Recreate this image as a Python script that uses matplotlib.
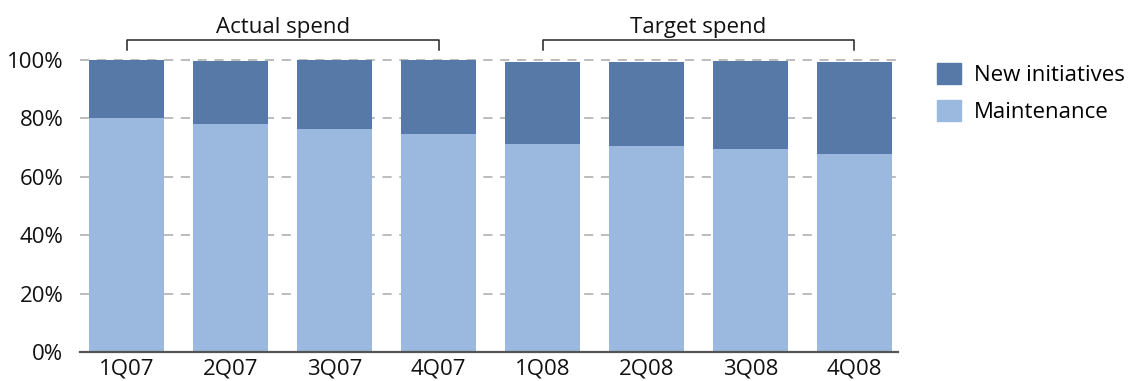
import matplotlib
matplotlib.use("Agg")
import matplotlib.pyplot as plt
from matplotlib.patches import Patch
import numpy as np

plt.rcParams['font.family'] = ['Open Sans', 'DejaVu Sans']

# data
quarters = ['1Q07', '2Q07', '3Q07', '4Q07', '1Q08', '2Q08', '3Q08', '4Q08']
maintenance = [80, 78, 76.5, 74.7, 71.2, 70.7, 69.5, 67.8]
totals = [100, 99.8, 100, 100, 99.4, 99.4, 99.7, 99.4]
new_init = [t - m for t, m in zip(totals, maintenance)]
groups = [('Actual spend', 0, 3), ('Target spend', 4, 7)]
yticks = [0, 20, 40, 60, 80, 100]

dark = '#5679A8'
light = '#9BB8DE'
fs = 16

fig = plt.figure(figsize=(11.33, 3.81), dpi=100)
ax = fig.add_axes([0.0706, 0.0761, 0.7220, 0.7664])

x = np.arange(len(quarters))
ax.bar(x, maintenance, width=0.72, color=light, zorder=2)
ax.bar(x, new_init, bottom=maintenance, width=0.72, color=dark, zorder=2)

ax.set_xlim(-0.45, 7.42)
ax.set_ylim(0, 100)
ax.set_yticks(yticks)
ax.set_yticklabels([f'{v}%' for v in yticks])
ax.set_xticks(x)
ax.set_xticklabels(quarters)
ax.tick_params(axis='both', length=0, labelsize=fs, colors='#111111')
ax.tick_params(axis='x', pad=5)
ax.tick_params(axis='y', pad=12)

for v in yticks[1:]:
    ax.axhline(v, color='#AAAAAA', lw=1.1, ls=(0, (6, 5)), zorder=1, clip_on=False)

for s in ['top', 'right', 'left']:
    ax.spines[s].set_visible(False)
ax.spines['bottom'].set_color('#555555')
ax.spines['bottom'].set_linewidth(1.6)

# group brackets above the bars
for label, a, b in groups:
    ax.plot([a, a, b, b], [103.4, 106.9, 106.9, 103.4], color='#222222', lw=1.1,
            clip_on=False)
    ax.text((a + b) / 2, 109.3, label, ha='center', va='baseline', fontsize=fs,
            color='#111111')

handles = [Patch(color=dark, label='New initiatives'),
           Patch(color=light, label='Maintenance')]
fig.legend(handles=handles, loc='upper left', bbox_to_anchor=(0.8195, 0.857),
           frameon=False, fontsize=fs, handlelength=1.05, handleheight=1.05,
           handletextpad=0.6, labelspacing=0.62, borderaxespad=0)

fig.savefig('out.png', dpi=100)
